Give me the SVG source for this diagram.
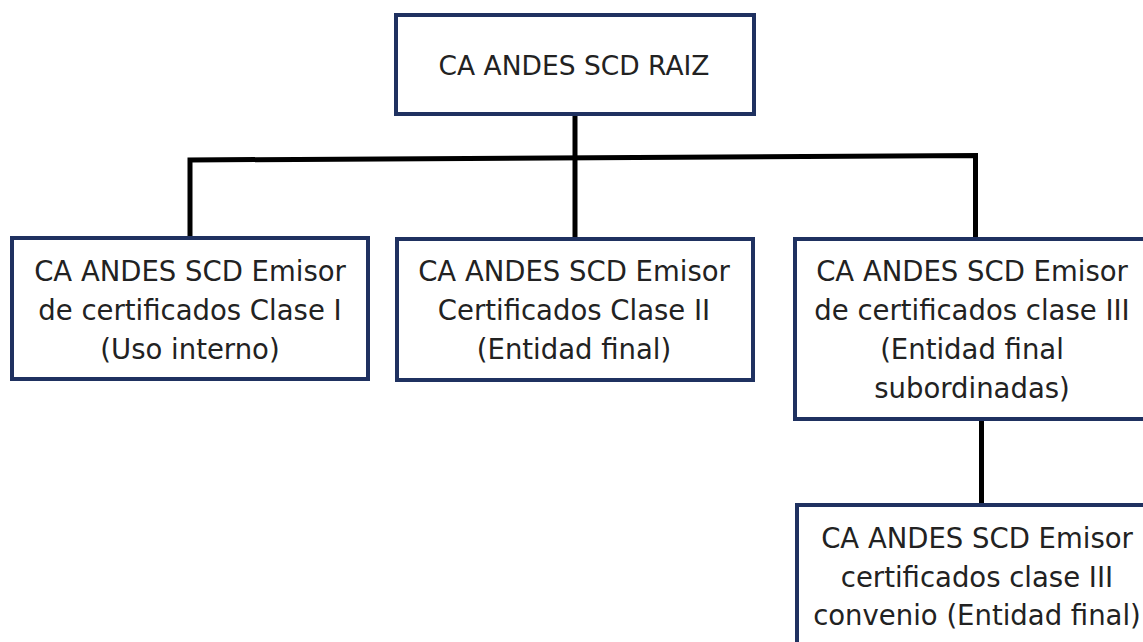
<svg xmlns="http://www.w3.org/2000/svg" width="1143" height="642" viewBox="0 0 1143 642">
<style>
.box{fill:#ffffff;stroke:#1f3160;stroke-width:4}
.lbl{font-family:"DejaVu Sans","Liberation Sans",sans-serif;font-size:27.5px;fill:#222222;text-anchor:middle}
.title{font-size:26.5px}
.conn{fill:none;stroke:#000000;stroke-width:5}
</style>
<rect width="1143" height="642" fill="#ffffff"/>
<g id="connectors">
<line class="conn" x1="575" y1="116" x2="575" y2="238"/>
<polyline class="conn" points="190,237 190,160 975.5,155.5 975.5,237"/>
<line class="conn" x1="981.5" y1="419" x2="981.5" y2="505"/>
</g>
<g id="root">
<rect class="box" x="396" y="15" width="358" height="99"/>
<text class="lbl title" x="574" y="75">CA ANDES SCD RAIZ</text>
</g>
<g id="clase1">
<rect class="box" x="12" y="238" width="356" height="141"/>
<text class="lbl" x="190" y="281">CA ANDES SCD Emisor</text>
<text class="lbl" x="190" y="320">de certificados Clase I</text>
<text class="lbl" x="190" y="359">(Uso interno)</text>
</g>
<g id="clase2">
<rect class="box" x="397" y="239" width="356" height="141"/>
<text class="lbl" x="574" y="281">CA ANDES SCD Emisor</text>
<text class="lbl" x="574" y="320">Certificados Clase II</text>
<text class="lbl" x="574" y="359">(Entidad final)</text>
</g>
<g id="clase3">
<rect class="box" x="795" y="239" width="360" height="180"/>
<text class="lbl" x="972" y="281">CA ANDES SCD Emisor</text>
<text class="lbl" x="972" y="320">de certificados clase III</text>
<text class="lbl" x="972" y="359">(Entidad final</text>
<text class="lbl" x="972" y="398">subordinadas)</text>
</g>
<g id="clase3convenio">
<rect class="box" x="797" y="505" width="360" height="150"/>
<text class="lbl" x="977" y="548">CA ANDES SCD Emisor</text>
<text class="lbl" x="977" y="587">certificados clase III</text>
<text class="lbl" x="977" y="625">convenio (Entidad final)</text>
</g>
</svg>
